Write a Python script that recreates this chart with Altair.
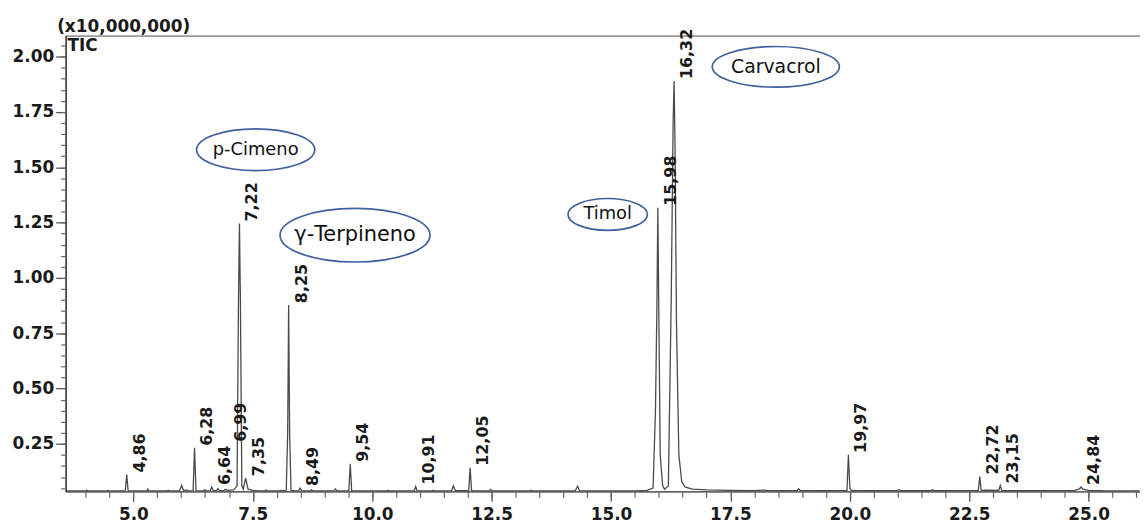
import altair as alt
import pandas as pd

# ---------------- data ----------------
trace_time = [3.60, 4.00, 4.02, 4.04, 4.45, 4.47, 4.49, 4.83, 4.86, 4.89,
              5.28, 5.30, 5.32, 5.70, 5.73, 5.75, 5.97, 6.01, 6.05, 6.12,
              6.15, 6.25, 6.28, 6.31, 6.45, 6.50, 6.53, 6.61, 6.64, 6.67,
              6.74, 6.77, 6.80, 6.90, 6.93, 6.96, 7.10, 7.17, 7.20, 7.22,
              7.24, 7.27, 7.30, 7.35, 7.40, 7.50, 7.60, 7.75, 7.78, 7.80,
              8.05, 8.08, 8.10, 8.20, 8.23, 8.25, 8.27, 8.30, 8.38, 8.46,
              8.49, 8.52, 8.70, 8.73, 8.76, 9.20, 9.23, 9.26, 9.51, 9.54,
              9.57, 9.80, 10.30, 10.33, 10.36, 10.88, 10.91, 10.94, 11.25, 11.28,
              11.30, 11.66, 11.70, 11.74, 12.02, 12.05, 12.08, 12.45, 12.48, 12.51,
              13.30, 13.33, 13.36, 14.25, 14.30, 14.34, 15.50, 15.75, 15.88, 15.93,
              15.96, 15.98, 16.00, 16.03, 16.08, 16.12, 16.20, 16.26, 16.30, 16.32,
              16.34, 16.37, 16.42, 16.48, 16.55, 16.70, 17.00, 17.50, 18.00, 18.20,
              18.30, 18.90, 18.93, 18.96, 19.50, 19.94, 19.97, 20.00, 20.03, 20.50,
              21.00, 21.03, 21.06, 21.70, 21.73, 21.76, 22.69, 22.72, 22.75, 22.85,
              23.12, 23.15, 23.18, 23.50, 24.70, 24.80, 24.84, 24.88, 25.00, 25.30,
              26.07]
trace_signal = [0.037, 0.037, 0.041, 0.037, 0.037, 0.040, 0.037, 0.037, 0.111, 0.037,
                0.037, 0.046, 0.037, 0.037, 0.040, 0.037, 0.039, 0.062, 0.039, 0.042,
                0.037, 0.038, 0.232, 0.038, 0.037, 0.042, 0.037, 0.038, 0.055, 0.038,
                0.040, 0.048, 0.038, 0.040, 0.045, 0.040, 0.042, 0.060, 0.900, 1.246,
                0.900, 0.060, 0.045, 0.095, 0.045, 0.040, 0.037, 0.037, 0.041, 0.037,
                0.037, 0.040, 0.037, 0.040, 0.300, 0.877, 0.300, 0.040, 0.037, 0.038,
                0.050, 0.038, 0.037, 0.042, 0.037, 0.037, 0.046, 0.037, 0.038, 0.160,
                0.038, 0.037, 0.037, 0.040, 0.037, 0.038, 0.057, 0.038, 0.037, 0.040,
                0.037, 0.038, 0.060, 0.038, 0.038, 0.142, 0.038, 0.037, 0.044, 0.037,
                0.037, 0.040, 0.037, 0.038, 0.058, 0.038, 0.037, 0.040, 0.050, 0.400,
                0.860, 1.317, 0.850, 0.200, 0.060, 0.045, 0.060, 0.900, 1.700, 1.890,
                1.600, 0.800, 0.200, 0.080, 0.055, 0.045, 0.042, 0.040, 0.039, 0.041,
                0.039, 0.040, 0.046, 0.040, 0.038, 0.040, 0.200, 0.050, 0.040, 0.038,
                0.040, 0.043, 0.038, 0.038, 0.043, 0.038, 0.040, 0.102, 0.040, 0.041,
                0.040, 0.062, 0.040, 0.038, 0.040, 0.045, 0.055, 0.045, 0.040, 0.038,
                0.037]

peak_rt = [4.86, 6.28, 6.64, 6.99, 7.22, 7.35, 8.25, 8.49, 9.54, 10.91,
           12.05, 15.98, 16.32, 19.97, 22.72, 23.15, 24.84]
peak_height = [0.111, 0.232, 0.055, 0.250, 1.246, 0.095, 0.877, 0.050, 0.160, 0.057,
               0.142, 1.317, 1.890, 0.200, 0.102, 0.062, 0.055]
peak_label = ["4,86", "6,28", "6,64", "6,99", "7,22", "7,35", "8,25", "8,49", "9,54", "10,91",
              "12,05", "15,98", "16,32", "19,97", "22,72", "23,15", "24,84"]

compound_name = ["p-Cimeno", "γ-Terpineno", "Timol", "Carvacrol"]
compound_rt = [7.56, 9.64, 14.93, 18.45]
compound_level = [1.579, 1.193, 1.287, 1.954]

x_major = [5.0, 7.5, 10.0, 12.5, 15.0, 17.5, 20.0, 22.5, 25.0]
y_major = [0.25, 0.50, 0.75, 1.00, 1.25, 1.50, 1.75, 2.00]
x_minor = [round(4.0 + 0.5 * i, 2) for i in range(45)]
y_minor = [round(0.05 * i, 2) for i in range(1, 42)]

y_title = "(x10,000,000)"
corner_text = "TIC"

# ---------------- styling ----------------
X_DOMAIN = [3.58, 26.075]
Y_DOMAIN = [0.035, 2.095]
FONT_B = "DejaVu Sans"
ELL_COLOR = "#41609f"
# (width px, height px, font size) of each annotation ellipse
ell_style = [(119, 42, 18), (151, 54, 21), (80, 32, 18), (128, 41, 19)]


def xs():
    return alt.Scale(domain=X_DOMAIN, nice=False, zero=False)


def ys():
    return alt.Scale(domain=Y_DOMAIN, nice=False, zero=False)


trace_df = pd.DataFrame({"time": trace_time, "signal": trace_signal})
peak_df = pd.DataFrame({"rt": peak_rt, "h": peak_height, "lab": peak_label})
comp_df = pd.DataFrame({"name": compound_name, "rt": compound_rt, "lev": compound_level})
corner_df = pd.DataFrame({"rt": [X_DOMAIN[0]], "lev": [Y_DOMAIN[1]], "t": [corner_text]})

line = alt.Chart(trace_df).mark_line(color="#4a4a4a", strokeWidth=1.3, clip=True).encode(
    x=alt.X("time:Q", scale=xs(), axis=alt.Axis(
        values=x_major, format=".1f", title=None, grid=False, orient="bottom",
        tickSize=10, tickColor="#555", tickWidth=1.3,
        domainColor="#666", domainWidth=1.8,
        labelFont=FONT_B, labelFontWeight="bold", labelFontSize=17, labelColor="#1a1a1a",
        labelPadding=5, labelFlush=False)),
    y=alt.Y("signal:Q", scale=ys(), axis=alt.Axis(
        values=y_major, format=".2f", grid=False, orient="left",
        tickSize=10, tickColor="#555", tickWidth=1.3,
        domainColor="#333", domainWidth=1.6,
        labelFont=FONT_B, labelFontWeight="bold", labelFontSize=17, labelColor="#1a1a1a",
        labelPadding=2,
        title=y_title, titleAngle=0, titleAlign="left", titleBaseline="alphabetic",
        titleX=-9, titleY=-4, titleFont=FONT_B, titleFontWeight="bold",
        titleFontSize=17, titleColor="#1a1a1a")),
)

labels = alt.Chart(peak_df).mark_text(
    angle=270, align="left", baseline="middle", dx=2, dy=13,
    font=FONT_B, fontWeight="bold", fontSize=16, color="#1a1a1a").encode(
    x=alt.X("rt:Q", scale=xs(), axis=alt.Axis(
        values=x_minor, labels=False, domain=False, title=None, grid=False,
        orient="bottom", tickSize=6, tickColor="#666", tickWidth=1.2)),
    y=alt.Y("h:Q", scale=ys(), axis=alt.Axis(
        values=y_minor, labels=False, domain=False, title=None, grid=False,
        orient="left", tickSize=5, tickColor="#666", tickWidth=1.2)),
    text="lab:N",
)

corner = alt.Chart(corner_df).mark_text(
    align="left", baseline="top", dx=2, dy=2,
    font=FONT_B, fontWeight="bold", fontSize=17, color="#1a1a1a").encode(
    x=alt.X("rt:Q", scale=xs(), axis=alt.Axis(
        orient="top", ticks=False, labels=False, title=None, grid=False,
        domainColor="#9a9a9a", domainWidth=2)),
    y=alt.Y("lev:Q", scale=ys(), axis=None),
    text="t:N",
)

layers = [line, labels, corner]

k = 0.5523
for i, (w, h, fs) in enumerate(ell_style):
    r = h / w
    path = (f"M1,0 C1,{k*r:.4f} {k:.4f},{r:.4f} 0,{r:.4f} "
            f"C{-k:.4f},{r:.4f} -1,{k*r:.4f} -1,0 "
            f"C-1,{-k*r:.4f} {-k:.4f},{-r:.4f} 0,{-r:.4f} "
            f"C{k:.4f},{-r:.4f} 1,{-k*r:.4f} 1,0 Z")
    one = comp_df.iloc[[i]]
    ell = alt.Chart(one).mark_point(
        shape=path, filled=False, stroke=ELL_COLOR, strokeWidth=1.7, opacity=1).encode(
        x=alt.X("rt:Q", scale=xs(), axis=None),
        y=alt.Y("lev:Q", scale=ys(), axis=None),
        size=alt.value(w * w),
    )
    txt = alt.Chart(one).mark_text(
        font="DejaVu Sans", fontSize=fs, color="#111111", baseline="middle", align="center").encode(
        x=alt.X("rt:Q", scale=xs(), axis=None),
        y=alt.Y("lev:Q", scale=ys(), axis=None),
        text="name:N",
    )
    layers += [ell, txt]

chart = alt.layer(*layers).resolve_axis(x="independent", y="independent").properties(
    width=1082, height=459,
    autosize=alt.AutoSizeParams(type="none"),
    padding={"left": 58, "top": 26, "right": 0, "bottom": 31},
    background="white",
).configure_view(stroke=None)

chart.save("out.html", embed_options={"renderer": "svg", "actions": False})
